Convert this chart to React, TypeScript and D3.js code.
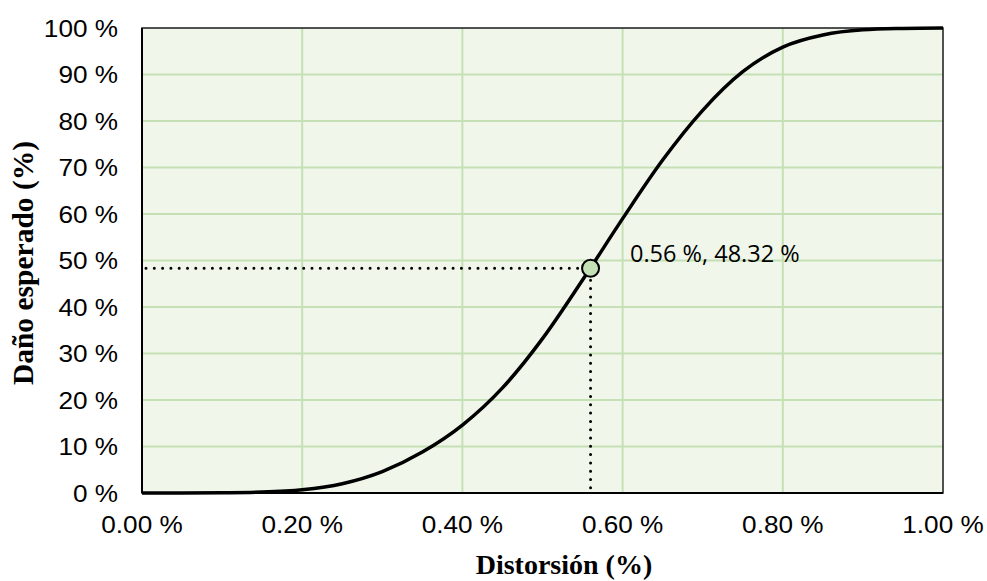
import React from "react";
import * as d3 from "d3";

const distortion = [0, 0.05, 0.1, 0.15, 0.2, 0.25, 0.3, 0.35, 0.4, 0.45, 0.5, 0.55, 0.6, 0.65, 0.7, 0.75, 0.8, 0.85, 0.9, 0.95, 1.0];
const damage = [0, 0.0, 0.05, 0.2, 0.7, 2.0, 4.6, 8.8, 14.6, 22.6, 33.2, 45.8, 59.0, 71.6, 82.3, 90.6, 95.9, 98.5, 99.6, 99.9, 100];
const xTicks = [0, 0.2, 0.4, 0.6, 0.8, 1.0];
const yTicks = [0, 10, 20, 30, 40, 50, 60, 70, 80, 90, 100];
const marker = { x: 0.56, y: 48.32 };
const markerLabel = "0.56 %, 48.32 %";
const xTitle = "Distorsión (%)";
const yTitle = "Daño esperado (%)";

export default function App() {
  const W = 987, H = 581;
  const L = 142, R = 943, T = 28, B = 493;
  const x = d3.scaleLinear().domain([0, 1]).range([L, R]);
  const y = d3.scaleLinear().domain([0, 100]).range([B, T]);
  const pts = distortion.map((d, i) => [d, damage[i]] as [number, number]);
  const line = d3.line<[number, number]>().x(d => x(d[0])).y(d => y(d[1])).curve(d3.curveMonotoneX);
  const mx = x(marker.x);
  const my = y(marker.y);
  const tickFont = "'Liberation Sans', Arial, sans-serif";
  return (
    <svg width={W} height={H} style={{ position: "absolute", left: 0, top: 0 }}>
      <rect x={0} y={0} width={W} height={H} fill="#ffffff" />
      <rect x={L} y={T} width={R - L} height={B - T} fill="#f0f7ea" />
      {xTicks.slice(1, -1).map(t => (
        <line key={"gx" + t} x1={x(t)} x2={x(t)} y1={T} y2={B} stroke="#c5e0b4" strokeWidth={2} />
      ))}
      {yTicks.slice(1, -1).map(t => (
        <line key={"gy" + t} x1={L} x2={R} y1={y(t)} y2={y(t)} stroke="#c5e0b4" strokeWidth={2} />
      ))}
      <rect x={L} y={T} width={R - L} height={B - T} fill="none" stroke="#1a1a1a" strokeWidth={1.5} />
      <line x1={L} x2={R} y1={B} y2={B} stroke="#000" strokeWidth={2} />
      <line x1={L} x2={L} y1={T} y2={B} stroke="#000" strokeWidth={2} />
      <path d={line(pts) || ""} fill="none" stroke="#000" strokeWidth={3.5} />
      <line x1={L + 4} x2={mx - 9} y1={my} y2={my} stroke="#000" strokeWidth={3} strokeDasharray="0 8.3" strokeLinecap="round" />
      <line x1={mx} x2={mx} y1={my + 12} y2={B} stroke="#000" strokeWidth={3} strokeDasharray="0 8.3" strokeLinecap="round" />
      <circle cx={mx} cy={my} r={8.5} fill="#c5e0b4" stroke="#000" strokeWidth={2} />
      <text x={630} y={262} fontFamily="'Open Sans', sans-serif" fontSize={23.5} fill="#000">{markerLabel}</text>
      {yTicks.map(t => (
        <text key={"ty" + t} transform={`translate(118, ${y(t)}) scale(1.09, 1)`} dy="0.36em" textAnchor="end" fontFamily={tickFont} fontSize={24} fill="#000">
          {t + " %"}
        </text>
      ))}
      {xTicks.map(t => (
        <text key={"tx" + t} transform={`translate(${x(t)}, 533) scale(1.09, 1)`} textAnchor="middle" fontFamily={tickFont} fontSize={24} fill="#000">
          {t.toFixed(2) + " %"}
        </text>
      ))}
      <text x={564} y={574} textAnchor="middle" fontFamily="'Liberation Serif', 'Times New Roman', serif" fontWeight="bold" fontSize={28} fill="#000">{xTitle}</text>
      <text transform={`translate(33, 263) rotate(-90)`} textAnchor="middle" fontFamily="'Liberation Serif', 'Times New Roman', serif" fontWeight="bold" fontSize={29.5} fill="#000">{yTitle}</text>
    </svg>
  );
}
